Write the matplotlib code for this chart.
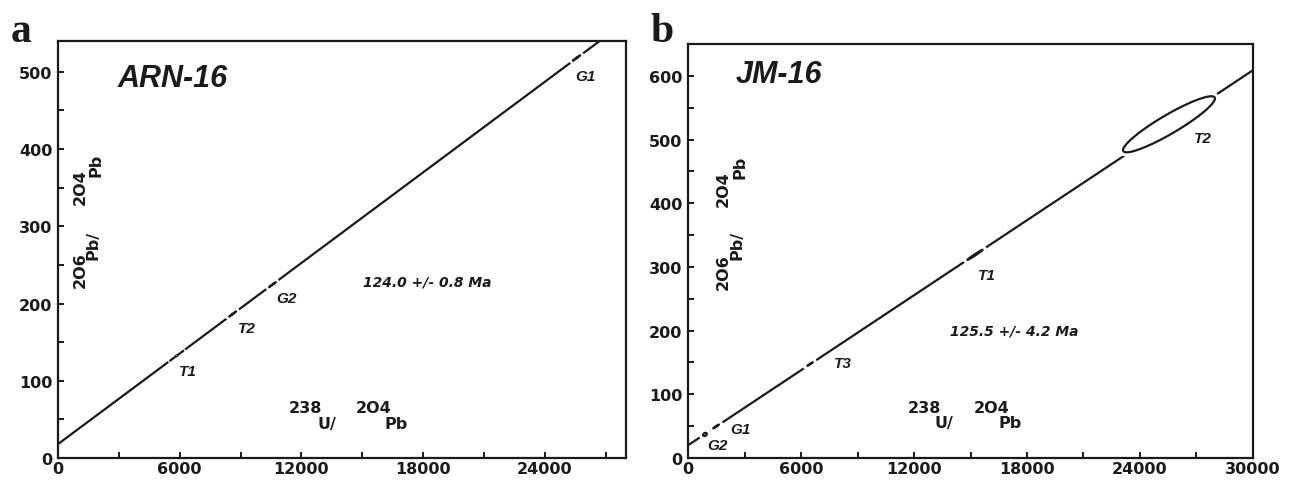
import numpy as np
import matplotlib
matplotlib.use("Agg")
import matplotlib.pyplot as plt
import matplotlib.patheffects as pe
from matplotlib.ticker import MultipleLocator

plt.rcParams['font.family'] = ['Liberation Sans', 'DejaVu Sans']
INK = '#1a1a1a'
WIDE = 'DejaVu Sans'   # wide bold face used for ticks and axis titles

# =============================================================================
# Data
# =============================================================================
# panel a : ARN-16
a_intercept, a_slope = 18.0, 0.01955
a_names = ['T1', 'T2', 'G2', 'G1']
a_cx = [5850, 8610, 10570, 25560]
a_cy = [132.5, 186.5, 224.5, 518.0]
a_sx = [30, 170, 160, 180]
a_sy = [0.6, 3.3, 3.1, 3.5]
a_rho = [0.5, 0.995, 0.995, 0.99]
a_label_x = [6390, 9300, 11260, 26020]
a_label_y = [113, 168, 207, 495]

# panel b : JM-16
b_intercept, b_slope = 20.0, 0.01963
b_names = ['G2', 'G1', 'T3', 'T1', 'T2']
b_cx = [900, 1490, 6480, 15240, 25540]
b_cy = [37.0, 49.5, 147.5, 319.0, 524.0]
b_sx = [100, 150, 140, 400, 2440]
b_sy = [2.5, 3.0, 2.8, 7.9, 44.0]
b_rho = [0.3, 0.98, 0.995, 0.99, 0.921]
b_label_x = [1540, 2760, 8230, 15880, 27350]
b_label_y = [20, 45, 149, 287, 502]

# =============================================================================
# helpers
# =============================================================================
def error_ellipse(cx, cy, sx, sy, rho, n=120):
    t = np.linspace(0, 2 * np.pi, n)
    x = cx + sx * np.cos(t)
    y = cy + sy * (rho * np.cos(t) + np.sqrt(1 - rho ** 2) * np.sin(t))
    return x, y


def style_axes(ax, xmax, ymax, ymajor):
    ax.set_xlim(0, xmax)
    ax.set_ylim(0, ymax)
    ax.xaxis.set_major_locator(MultipleLocator(6000))
    ax.xaxis.set_minor_locator(MultipleLocator(3000))
    ax.yaxis.set_major_locator(MultipleLocator(ymajor))
    ax.yaxis.set_minor_locator(MultipleLocator(ymajor / 2))
    ax.tick_params(which='both', direction='in', length=4.5, width=1.4,
                   color=INK, top=False, right=False)
    ax.tick_params(axis='x', which='major', pad=2)
    ax.tick_params(axis='y', which='major', pad=4)
    for lab in ax.get_xticklabels() + ax.get_yticklabels():
        lab.set_family(WIDE)
        lab.set_fontweight('bold')
        lab.set_fontsize(11.5)
        lab.set_color(INK)
    for s in ax.spines.values():
        s.set_linewidth(1.6)
        s.set_color(INK)


def draw_panel(ax, intercept, slope, xmax, cx, cy, sx, sy, rho, halos,
               names, lx, ly):
    xs = np.array([0, xmax])
    ax.plot(xs, intercept + slope * xs, color=INK, lw=1.6, zorder=2,
            solid_capstyle='butt')
    for i in range(len(cx)):
        ex, ey = error_ellipse(cx[i], cy[i], sx[i], sy[i], rho[i])
        ax.fill(ex, ey, facecolor='white', edgecolor=INK, lw=1.6, zorder=3,
                path_effects=[pe.Stroke(linewidth=halos[i], foreground='white'),
                              pe.Normal()])
        ax.text(lx[i], ly[i], names[i], ha='center', va='center',
                fontsize=11, fontweight='bold', fontstyle='italic', color=INK)


def axis_titles(ax, xl, yl):
    # 238U/204Pb and 206Pb/204Pb written with staggered mass numbers
    for (x, y, s) in xl:
        ax.text(x, y, s, ha='center', va='center', fontsize=11.5,
                family=WIDE, fontweight='bold', color=INK)
    for (x, y, s) in yl:
        ax.text(x, y, s, ha='center', va='center', fontsize=11.5,
                family=WIDE, fontweight='bold', color=INK, rotation=90)


fig = plt.figure(figsize=(12.94, 4.81), dpi=100)
ax_a = fig.add_axes([0.0448, 0.0457, 0.4390, 0.8670])
ax_b = fig.add_axes([0.5317, 0.0457, 0.4366, 0.8607])

# ----------------------------
# panel a
# ----------------------------
draw_panel(ax_a, a_intercept, a_slope, 28000, a_cx, a_cy, a_sx, a_sy, a_rho,
           [14, 5, 5, 5], a_names, a_label_x, a_label_y)
style_axes(ax_a, 28000, 540, 100)
ax_a.text(5656, 492, 'ARN-16', ha='center', va='center', fontsize=22,
          fontweight='bold', fontstyle='italic', color=INK)
ax_a.text(18200, 229, '124.0 +/- 0.8 Ma', ha='center', va='center',
          fontsize=10, family=WIDE, fontweight='bold', fontstyle='italic',
          color=INK)
axis_titles(ax_a,
            [(12200, 66, '238'), (13280, 45, 'U/'),
             (15540, 66, '2O4'), (16670, 45, 'Pb')],
            [(1080, 244, '2O6'), (1750, 277, 'Pb/'),
             (1080, 352, '2O4'), (1880, 380, 'Pb')])

# ----------------------------
# panel b
# ----------------------------
draw_panel(ax_b, b_intercept, b_slope, 30000, b_cx, b_cy, b_sx, b_sy, b_rho,
           [6, 6, 6, 6, 6], b_names, b_label_x, b_label_y)
style_axes(ax_b, 30000, 650, 100)
ax_b.text(4830, 603, 'JM-16', ha='center', va='center', fontsize=22,
          fontweight='bold', fontstyle='italic', color=INK)
ax_b.text(17310, 200, '125.5 +/- 4.2 Ma', ha='center', va='center',
          fontsize=10, family=WIDE, fontweight='bold', fontstyle='italic',
          color=INK)
axis_titles(ax_b,
            [(12580, 80, '238'), (13590, 55, 'U/'),
             (16140, 80, '2O4'), (17100, 55, 'Pb')],
            [(1860, 294, '2O6'), (2600, 336, 'Pb/'),
             (1860, 424, '2O4'), (2760, 458, 'Pb')])

# panel letters
fig.text(21 / 1294, 1 - 42 / 481, 'a', ha='center', va='baseline',
         fontsize=30, fontweight='bold', family='Liberation Serif', color=INK)
fig.text(662 / 1294, 1 - 42 / 481, 'b', ha='center', va='baseline',
         fontsize=30, fontweight='bold', family='Liberation Serif', color=INK)

fig.savefig('out.png', dpi=100)
plt.close()
